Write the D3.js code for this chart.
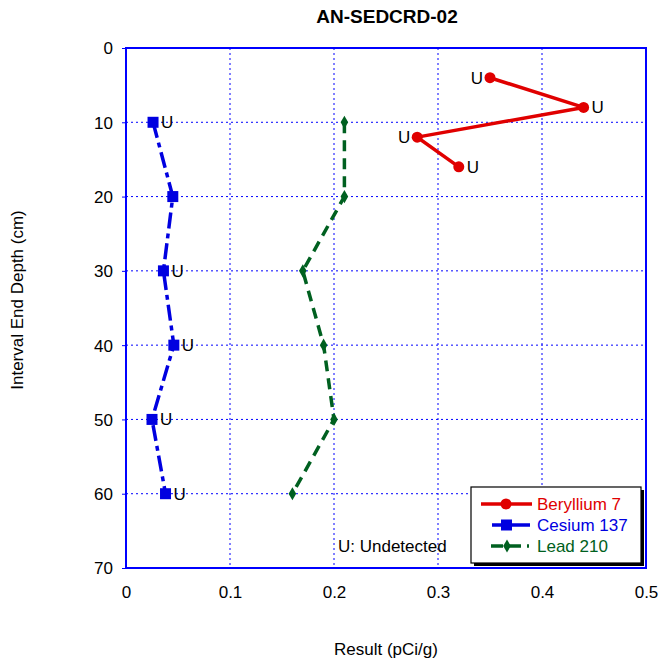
<!DOCTYPE html>
<html><head><meta charset="utf-8">
<script src="https://cdn.jsdelivr.net/npm/d3@7"></script>
<style>body{margin:0;background:#fff}svg{display:block;font-family:"Liberation Sans",Arial,sans-serif}</style>
</head><body>
<script>
const title = "AN-SEDCRD-02";
const xTicks = [0, 0.1, 0.2, 0.3, 0.4, 0.5];
const yTicks = [0, 10, 20, 30, 40, 50, 60, 70];
const beDepth = [4, 8, 12, 16];
const beValue = [0.35, 0.44, 0.28, 0.32];
const beFlag = ["L", "R", "L", "R"];
const csDepth = [10, 20, 30, 40, 50, 60];
const csValue = [0.026, 0.045, 0.036, 0.046, 0.025, 0.038];
const csFlag = ["R", "", "R", "R", "R", "R"];
const pbDepth = [10, 20, 30, 40, 50, 60];
const pbValue = [0.21, 0.21, 0.17, 0.19, 0.20, 0.16];
const seriesNames = ["Beryllium 7", "Cesium 137", "Lead 210"];

const W = 660, H = 664;
const m = {l: 126, t: 48, r: 646, b: 568};
const FS = 17;
const svg = d3.select("body").append("svg").attr("width", W).attr("height", H);
const x = d3.scaleLinear().domain([0, 0.5]).range([m.l, m.r]);
const y = d3.scaleLinear().domain([0, 70]).range([m.t, m.b]);

// grid
svg.append("g").selectAll("line").data(xTicks.slice(1, -1)).join("line")
  .attr("x1", d => x(d)).attr("x2", d => x(d)).attr("y1", m.t).attr("y2", m.b)
  .attr("stroke", "#0000ff").attr("stroke-width", 1).attr("stroke-dasharray", "2,3");
svg.append("g").selectAll("line").data(yTicks.slice(1, -1)).join("line")
  .attr("y1", d => y(d)).attr("y2", d => y(d)).attr("x1", m.l).attr("x2", m.r)
  .attr("stroke", "#0000ff").attr("stroke-width", 1).attr("stroke-dasharray", "2,3");

// axes
const xAxis = svg.append("g").attr("transform", `translate(0,${m.b})`)
  .call(d3.axisBottom(x).tickValues(xTicks).tickFormat(d => d === 0 ? "0" : d3.format(".1f")(d)).tickSize(0).tickPadding(18));
const yAxis = svg.append("g").attr("transform", `translate(${m.l},0)`)
  .call(d3.axisLeft(y).tickValues(yTicks).tickSize(4).tickPadding(9));
[xAxis, yAxis].forEach(a => {
  a.select(".domain").remove();
  a.selectAll("text").attr("font-size", FS).attr("fill", "#000").attr("font-family", "Liberation Sans, Arial, sans-serif");
  a.selectAll("line").attr("stroke", "#0000ff");
});
yAxis.selectAll("text").attr("dy", "0.35em");

svg.append("rect").attr("x", m.l).attr("y", m.t).attr("width", m.r - m.l).attr("height", m.b - m.t)
  .attr("fill", "none").attr("stroke", "#0000ff").attr("stroke-width", 2);

// titles
svg.append("text").attr("x", 387).attr("y", 23).attr("text-anchor", "middle")
  .attr("font-size", 19).attr("font-weight", "bold").text(title);
svg.append("text").attr("x", 386).attr("y", 655).attr("text-anchor", "middle")
  .attr("font-size", FS).text("Result (pCi/g)");
svg.append("text").attr("transform", "translate(23,300) rotate(-90)").attr("text-anchor", "middle")
  .attr("font-size", FS).text("Interval End Depth (cm)");

const line = d3.line().x(d => x(d.v)).y(d => y(d.d));
const zip = (ds, vs, fs) => ds.map((d, i) => ({d, v: vs[i], f: fs ? fs[i] : ""}));
const be = zip(beDepth, beValue, beFlag), cs = zip(csDepth, csValue, csFlag), pb = zip(pbDepth, pbValue);

const red = "#e00000", blue = "#0000e0", green = "#006020";
const diamond = d3.symbol().type(d3.symbolDiamond).size(50);

// Lead
svg.append("path").datum(pb).attr("d", line).attr("fill", "none").attr("stroke", green)
  .attr("stroke-width", 3.5).attr("stroke-dasharray", "11,7");
svg.append("g").selectAll("path").data(pb).join("path").attr("d", diamond)
  .attr("transform", d => `translate(${x(d.v)},${y(d.d)})`).attr("fill", green);

// Cesium
svg.append("path").datum(cs).attr("d", line).attr("fill", "none").attr("stroke", blue)
  .attr("stroke-width", 3.5).attr("stroke-dasharray", "16,5,5,5");
svg.append("g").selectAll("rect").data(cs).join("rect")
  .attr("x", d => x(d.v) - 5.5).attr("y", d => y(d.d) - 5.5).attr("width", 11).attr("height", 11).attr("fill", blue);

// Beryllium
svg.append("path").datum(be).attr("d", line).attr("fill", "none").attr("stroke", red).attr("stroke-width", 3.5);
svg.append("g").selectAll("circle").data(be).join("circle")
  .attr("cx", d => x(d.v)).attr("cy", d => y(d.d)).attr("r", 5.5).attr("fill", red);

// U labels
const flags = be.concat(cs).filter(d => d.f);
svg.append("g").selectAll("text").data(flags).join("text")
  .attr("x", d => d.f === "R" ? x(d.v) + 8 : x(d.v) - 7)
  .attr("y", d => y(d.d) + 6)
  .attr("text-anchor", d => d.f === "R" ? "start" : "end")
  .attr("font-size", FS).attr("fill", "#000").text("U");

svg.append("text").attr("x", 338).attr("y", 552).attr("font-size", FS).text("U: Undetected");

// legend
const lg = svg.append("g");
lg.append("rect").attr("x", 474).attr("y", 490).attr("width", 170).attr("height", 76).attr("fill", "#000");
lg.append("rect").attr("x", 471).attr("y", 487).attr("width", 170).attr("height", 76)
  .attr("fill", "#fff").attr("stroke", "#000").attr("stroke-width", 1.2);
const lgY = [504, 525, 546];
const lgCol = [red, blue, green];
// Be
lg.append("line").attr("x1", 481).attr("x2", 532).attr("y1", lgY[0]).attr("y2", lgY[0]).attr("stroke", red).attr("stroke-width", 3.5);
lg.append("circle").attr("cx", 506).attr("cy", lgY[0]).attr("r", 5.5).attr("fill", red);
// Cs
lg.append("line").attr("x1", 492).attr("x2", 530).attr("y1", lgY[1]).attr("y2", lgY[1]).attr("stroke", blue).attr("stroke-width", 3.5).attr("stroke-dasharray", "9,4,25");
lg.append("rect").attr("x", 501).attr("y", lgY[1] - 5.5).attr("width", 11).attr("height", 11).attr("fill", blue);
// Pb
lg.append("line").attr("x1", 491).attr("x2", 529).attr("y1", lgY[2]).attr("y2", lgY[2]).attr("stroke", green).attr("stroke-width", 3.5).attr("stroke-dasharray", "12,6");
lg.append("path").attr("d", diamond).attr("transform", `translate(507,${lgY[2]})`).attr("fill", green);
lg.selectAll("text.lt").data(seriesNames).join("text").attr("class", "lt")
  .attr("x", 537).attr("y", (d, i) => lgY[i] + 6).attr("font-size", FS)
  .attr("fill", (d, i) => lgCol[i]).text(d => d);
</script>
</body></html>
